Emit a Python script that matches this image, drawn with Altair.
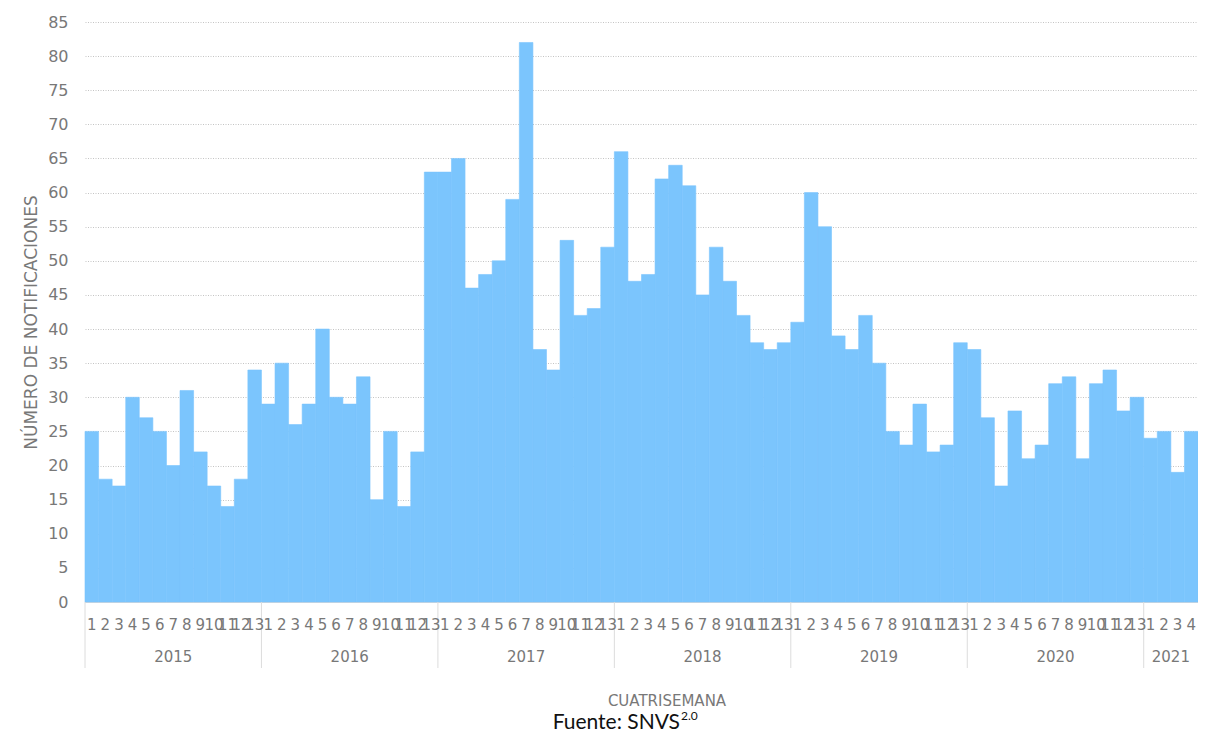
import altair as alt
import pandas as pd

years = [2015, 2016, 2017, 2018, 2019, 2020, 2021]
v2015 = [25, 18, 17, 30, 27, 25, 20, 31, 22, 17, 14, 18, 34]
v2016 = [29, 35, 26, 29, 40, 30, 29, 33, 15, 25, 14, 22, 63]
v2017 = [63, 65, 46, 48, 50, 59, 82, 37, 34, 53, 42, 43, 52]
v2018 = [66, 47, 48, 62, 64, 61, 45, 52, 47, 42, 38, 37, 38]
v2019 = [41, 60, 55, 39, 37, 42, 35, 25, 23, 29, 22, 23, 38]
v2020 = [37, 27, 17, 28, 21, 23, 32, 33, 21, 32, 34, 28, 30]
v2021 = [24, 25, 19, 25]
series = [v2015, v2016, v2017, v2018, v2019, v2020, v2021]
y_ticks = list(range(0, 86, 5))

rows = []
year_rows = []
i = 0
for yr, vals in zip(years, series):
    year_rows.append({"year": str(yr), "start": i, "mid": i + len(vals) / 2})
    for k, v in enumerate(vals):
        rows.append({"year": yr, "cs": str(k + 1), "start": i, "end": i + 1,
                     "mid": i + 0.5, "value": v})
        i += 1
n_total = i
df = pd.DataFrame(rows)
ydf = pd.DataFrame(year_rows)

W, H = 1113, 580
FONT = "DejaVu Sans"
GRAY = "#787878"
BLUE = "#7BC5FD"

xscale = alt.Scale(domain=[0, n_total], nice=False, zero=False)

bars = alt.Chart(df).mark_bar(color=BLUE, stroke=BLUE, strokeWidth=0.6).encode(
    x=alt.X("start:Q", scale=xscale,
            axis=alt.Axis(labels=False, ticks=False, grid=False, title=None,
                          domainColor="#d9d9d9", domainWidth=1)),
    x2="end:Q",
    y=alt.Y("value:Q", scale=alt.Scale(domain=[0, 85], nice=False),
            axis=alt.Axis(values=y_ticks, labelFontSize=16, labelColor=GRAY,
                          labelFont=FONT, labelPadding=17, ticks=False, domain=False,
                          gridColor="#c4c4c4", gridDash=[1, 1.5], gridWidth=1,
                          title="NÚMERO DE NOTIFICACIONES", titleFont=FONT,
                          titleFontSize=17, titleFontWeight="normal",
                          titleColor=GRAY, titleX=-54, titleY=300,
                          titleAngle=-90, titleAlign="center",
                          titleBaseline="middle")),
    y2=alt.datum(0),
)

num_labels = alt.Chart(df).mark_text(fontSize=15, font=FONT, color=GRAY,
                                      baseline="middle", align="center").encode(
    x=alt.X("mid:Q", scale=xscale),
    y=alt.value(H + 23),
    text="cs:N",
)

year_labels = alt.Chart(ydf).mark_text(fontSize=15, font=FONT, color=GRAY,
                                        baseline="middle", align="center").encode(
    x=alt.X("mid:Q", scale=xscale),
    y=alt.value(H + 55),
    text="year:N",
)

seps = alt.Chart(ydf).mark_rule(color="#dcdcdc", strokeWidth=1).encode(
    x=alt.X("start:Q", scale=xscale),
    y=alt.value(H),
    y2=alt.value(H + 66),
)

xtitle = alt.Chart(pd.DataFrame({"t": ["CUATRISEMANA"]})).mark_text(
    fontSize=15, font=FONT, color=GRAY, baseline="middle", align="center"
).encode(x=alt.value(582), y=alt.value(H + 99), text="t:N")

src = alt.Chart(pd.DataFrame({"t": ["Fuente: SNVS"]})).mark_text(
    fontSize=21, font="Lato", color="#111111", baseline="alphabetic", align="right"
).encode(x=alt.value(595), y=alt.value(H + 127), text="t:N")

sup = alt.Chart(pd.DataFrame({"t": ["2.0"]})).mark_text(
    fontSize=12, font="Lato", color="#111111", baseline="alphabetic", align="left"
).encode(x=alt.value(596), y=alt.value(H + 118), text="t:N")

chart = alt.layer(bars, seps, num_labels, year_labels, xtitle, src, sup).properties(
    width=W, height=H,
    autosize=alt.AutoSizeParams(type="none"),
    padding={"left": 77, "top": 14, "right": 0, "bottom": 132},
).configure_view(stroke=None)

chart.save("out.html", embed_options={"renderer": "svg", "actions": False})
